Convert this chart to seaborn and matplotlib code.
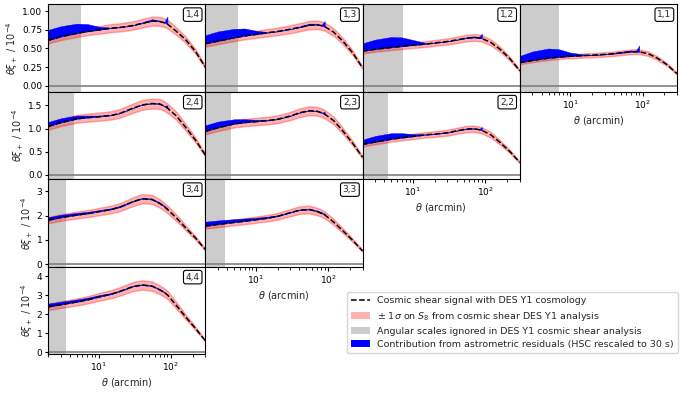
import numpy as np
import pandas as pd
import matplotlib
matplotlib.use("Agg")
import matplotlib.pyplot as plt
import seaborn as sns
from matplotlib.lines import Line2D
from matplotlib.patches import Patch

# ---------------- data ----------------
theta = [2, 3, 5, 7, 10, 15, 20, 30, 40, 55, 70, 80, 90, 120, 160, 220, 300]
theta_resid = [2, 3, 5, 7, 10, 15, 20, 30, 40, 55, 70, 80, 90]   # range of the residual measurement

# model theta*xi_+ (units 1e-4) per tomographic bin pair
model_14 = [0.61, 0.66, 0.705, 0.73, 0.75, 0.775, 0.785, 0.81, 0.84, 0.87, 0.865, 0.85, 0.83, 0.73, 0.62, 0.46, 0.25]
model_13 = [0.565, 0.60, 0.645, 0.67, 0.69, 0.715, 0.73, 0.76, 0.785, 0.815, 0.82, 0.81, 0.795, 0.72, 0.60, 0.44, 0.24]
model_12 = [0.465, 0.49, 0.515, 0.53, 0.545, 0.56, 0.575, 0.595, 0.615, 0.64, 0.648, 0.645, 0.635, 0.58, 0.49, 0.36, 0.20]
model_11 = [0.31, 0.34, 0.37, 0.385, 0.395, 0.405, 0.41, 0.42, 0.43, 0.445, 0.455, 0.458, 0.455, 0.43, 0.37, 0.28, 0.16]
model_24 = [1.045, 1.13, 1.21, 1.235, 1.255, 1.285, 1.33, 1.44, 1.51, 1.54, 1.53, 1.49, 1.44, 1.27, 1.03, 0.75, 0.43]
model_23 = [0.94, 1.02, 1.10, 1.13, 1.15, 1.175, 1.20, 1.27, 1.34, 1.385, 1.375, 1.345, 1.31, 1.17, 0.95, 0.68, 0.38]
model_22 = [0.66, 0.71, 0.77, 0.80, 0.83, 0.865, 0.88, 0.91, 0.95, 0.99, 0.995, 0.98, 0.96, 0.86, 0.70, 0.50, 0.27]
model_34 = [1.81, 1.92, 2.02, 2.08, 2.16, 2.25, 2.35, 2.57, 2.69, 2.66, 2.50, 2.38, 2.25, 1.90, 1.50, 1.08, 0.61]
model_33 = [1.57, 1.64, 1.72, 1.77, 1.83, 1.90, 1.97, 2.12, 2.22, 2.25, 2.17, 2.10, 2.03, 1.73, 1.38, 0.98, 0.55]
model_44 = [2.38, 2.50, 2.64, 2.75, 2.90, 3.05, 3.20, 3.45, 3.53, 3.47, 3.28, 3.15, 3.01, 2.45, 1.86, 1.25, 0.61]

# upper edge of the astrometric-residual contribution (model + residual)
blue_14 = [0.75, 0.80, 0.835, 0.83, 0.795, 0.78, 0.79, 0.815, 0.85, 0.895, 0.875, 0.85, 0.93]
blue_13 = [0.68, 0.73, 0.765, 0.77, 0.74, 0.72, 0.735, 0.765, 0.795, 0.835, 0.835, 0.81, 0.87]
blue_12 = [0.57, 0.62, 0.655, 0.65, 0.615, 0.575, 0.58, 0.60, 0.62, 0.65, 0.665, 0.645, 0.70]
blue_11 = [0.40, 0.46, 0.50, 0.49, 0.445, 0.42, 0.415, 0.425, 0.44, 0.46, 0.475, 0.458, 0.54]
blue_24 = [1.14, 1.22, 1.28, 1.28, 1.28, 1.295, 1.34, 1.45, 1.52, 1.555, 1.545, 1.49, 1.50]
blue_23 = [1.07, 1.15, 1.20, 1.20, 1.19, 1.19, 1.21, 1.28, 1.35, 1.395, 1.385, 1.345, 1.36]
blue_22 = [0.76, 0.84, 0.90, 0.90, 0.88, 0.875, 0.89, 0.92, 0.96, 1.00, 1.01, 0.98, 1.03]
blue_34 = [1.93, 2.03, 2.11, 2.15, 2.22, 2.30, 2.40, 2.61, 2.72, 2.70, 2.54, 2.42, 2.30]
blue_33 = [1.75, 1.80, 1.85, 1.88, 1.91, 1.96, 2.01, 2.15, 2.25, 2.28, 2.21, 2.14, 2.08]
blue_44 = [2.55, 2.65, 2.77, 2.86, 2.99, 3.11, 3.25, 3.49, 3.57, 3.51, 3.32, 3.19, 3.05]

# small-scale cuts (arcmin) of DES Y1
cut_14, cut_13, cut_12, cut_11 = 5.7, 5.7, 7.3, 7.0
cut_24, cut_23, cut_22 = 4.55, 4.6, 4.55
cut_34, cut_33 = 3.56, 3.7
cut_44 = 3.56

S8_FRAC = 0.07   # relative half-width of the +-1 sigma S8 band

row_ylim = [(-0.08, 1.10), (-0.09, 1.80), (-0.09, 3.50), (-0.09, 4.50)]
row_yticks = [[0.0, 0.25, 0.5, 0.75, 1.0], [0.0, 0.5, 1.0, 1.5], [0, 1, 2, 3], [0, 1, 2, 3, 4]]
row_yticklabels = [["0.00", "0.25", "0.50", "0.75", "1.00"], ["0.0", "0.5", "1.0", "1.5"],
                   ["0", "1", "2", "3"], ["0", "1", "2", "3", "4"]]

panels = {
    (0, 0): ("1,4", model_14, blue_14, cut_14),
    (0, 1): ("1,3", model_13, blue_13, cut_13),
    (0, 2): ("1,2", model_12, blue_12, cut_12),
    (0, 3): ("1,1", model_11, blue_11, cut_11),
    (1, 0): ("2,4", model_24, blue_24, cut_24),
    (1, 1): ("2,3", model_23, blue_23, cut_23),
    (1, 2): ("2,2", model_22, blue_22, cut_22),
    (2, 0): ("3,4", model_34, blue_34, cut_34),
    (2, 1): ("3,3", model_33, blue_33, cut_33),
    (3, 0): ("4,4", model_44, blue_44, cut_44),
}

# ---------------- plotting ----------------
sns.set_style("ticks")
plt.rcParams.update({
    "font.family": ["DejaVu Sans"],
    "font.size": 6.5,
    "xtick.labelsize": 6.5,
    "ytick.labelsize": 6.5,
    "axes.labelsize": 7,
    "axes.edgecolor": "black",
    "axes.linewidth": 0.8,
    "xtick.color": "black",
    "ytick.color": "black",
    "xtick.major.size": 3.0,
    "ytick.major.size": 2.5,
    "xtick.minor.size": 1.8,
    "xtick.major.pad": 2,
    "ytick.major.pad": 1.5,
    "xtick.major.width": 0.8,
    "ytick.major.width": 0.8,
    "xtick.minor.width": 0.6,
    "mathtext.fontset": "dejavusans",
})

fig = plt.figure(figsize=(6.84, 3.99), dpi=100)
gs = fig.add_gridspec(4, 4, left=48 / 684, right=677 / 684, top=1 - 4 / 399, bottom=1 - 354 / 399,
                      wspace=0, hspace=0)

th_arr = np.array(theta)
for (i, j), (lab, model, blue, cut) in panels.items():
    ax = fig.add_subplot(gs[i, j])
    m = np.array(model)
    ax.axvspan(1.0, cut, color="grey", alpha=0.4, lw=0, zorder=0)
    ax.fill_between(th_arr, m * (1 - S8_FRAC), m * (1 + S8_FRAC), color="red", alpha=0.3, zorder=1)
    nb = len(theta_resid)
    ax.fill_between(np.array(theta_resid), m[:nb], np.array(blue), color="blue", lw=0.3, zorder=2)
    df = pd.DataFrame({"theta": theta, "xi": model})
    sns.lineplot(data=df, x="theta", y="xi", ax=ax, color="k", linestyle="--", lw=1.1, zorder=3)
    ax.axhline(0, color="0.5", lw=1.2, zorder=1)
    ax.set_xscale("log")
    ax.set_xlim(2, 300)
    ax.set_ylim(*row_ylim[i])
    ax.set_yticks(row_yticks[i])
    ax.text(0.965, 0.93, lab, transform=ax.transAxes, ha="right", va="top", fontsize=6.5,
            bbox=dict(boxstyle="round,pad=0.25", fc="white", ec="black", lw=0.8), zorder=5)
    if j == 0:
        ax.set_yticklabels(row_yticklabels[i])
        ax.set_ylabel(r"$\theta\xi_+$ / $10^{-4}$", labelpad=1.5)
    else:
        ax.tick_params(axis="y", left=False, labelleft=False)
        ax.set_ylabel("")
    if i == 3 - j:
        ax.set_xlabel(r"$\theta$ (arcmin)", labelpad=2)
    else:
        ax.tick_params(axis="x", which="both", bottom=False, labelbottom=False)
        ax.set_xlabel("")

handles = [
    Line2D([0], [0], color="k", linestyle="--", lw=1.1),
    Patch(facecolor="red", alpha=0.3, edgecolor="none"),
    Patch(facecolor="grey", alpha=0.4, edgecolor="none"),
    Patch(facecolor="blue", edgecolor="none"),
]
labels = [
    "Cosmic shear signal with DES Y1 cosmology",
    r"$\pm$ 1$\sigma$ on $S_8$ from cosmic shear DES Y1 analysis",
    "Angular scales ignored in DES Y1 cosmic shear analysis",
    "Contribution from astrometric residuals (HSC rescaled to 30 s)",
]
fig.legend(handles, labels, loc="lower left", bbox_to_anchor=(0.5005, 0.104), fontsize=6.8,
           frameon=True, fancybox=True, framealpha=0.8, edgecolor="0.8", borderpad=0.4,
           handlelength=2.0, labelspacing=0.45)

fig.savefig("out.png", dpi=100)
